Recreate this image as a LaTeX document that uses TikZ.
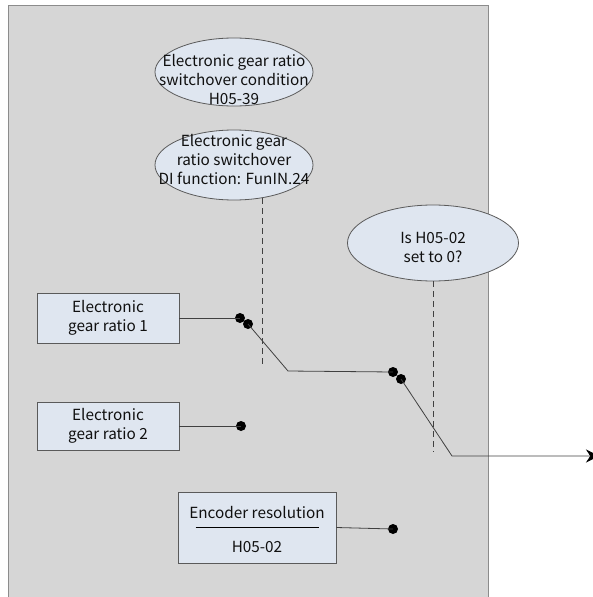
\documentclass[tikz,border=0pt]{standalone}
\usepackage{fontspec}
\setmainfont{Noto Sans CJK SC}
\usetikzlibrary{shapes.geometric,arrows.meta}
\definecolor{panel}{HTML}{D6D6D6}
\definecolor{panelborder}{HTML}{8C8C8C}
\definecolor{nodefill}{HTML}{DFE6F0}
\definecolor{nodeborder}{HTML}{5A5A5A}
\definecolor{txt}{HTML}{101010}
\definecolor{wire}{HTML}{404040}
\tikzset{
  every node/.style={font=\fontsize{15.3}{19}\selectfont, text=txt},
  oval/.style={ellipse, draw=nodeborder, fill=nodefill, line width=0.8pt, inner sep=0pt},
  ovaltext/.style={inner sep=0pt, align=center},
  gearbox/.style={rectangle, draw=nodeborder, fill=nodefill, line width=0.8pt, inner sep=0pt, align=center, minimum width=142pt},
  wireline/.style={draw=wire, line width=0.8pt},
  dashline/.style={draw=wire, line width=0.8pt, dash pattern=on 6pt off 4pt},
  contact/.style={circle, fill=black, inner sep=0pt, minimum size=10pt},
}
\begin{document}
\begin{tikzpicture}[x=1pt,y=-1pt]
\useasboundingbox (0,0) rectangle (592,597);
\fill[panel] (8,5) rectangle (488,600);
\draw[panelborder, line width=1pt] (8,600) -- (8,5) -- (488,5) -- (488,600);

% ellipses
\node[oval, minimum width=158pt, minimum height=68pt] (e1) at (234,72) {};
\node[ovaltext] (e1t) at (234,80) {Electronic gear ratio\\switchover condition\\H05-39};
\node[oval, minimum width=158pt, minimum height=70pt] (e2) at (234,165) {};
\node[ovaltext] (e2t) at (234,160) {Electronic gear\\ratio switchover\\DI function: FunIN.24};
\node[oval, minimum width=171pt, minimum height=76pt] (e3) at (433,243) {};
\node[ovaltext] (e3t) at (433,247) {Is H05-02\\set to 0?};

% boxes
\node[gearbox, minimum height=50pt] (g1) at (108,318) {Electronic\\gear ratio 1};
\node[gearbox, minimum height=48pt] (g2) at (108,426) {Electronic\\gear ratio 2};
\node[rectangle, draw=nodeborder, fill=nodefill, line width=0.8pt, minimum width=158pt, minimum height=71pt, inner sep=0pt] (enc) at (257,527.5) {};
\node[inner sep=0pt] (enct) at (257,513) {Encoder resolution};
\node[inner sep=0pt] (encb) at (257,547) {H05-02};
\draw[draw=black, line width=0.8pt] ([xshift=18pt]enc.west) -- ([xshift=-17pt]enc.east);

% contacts
\node[contact] (a1) at (240,318) {};
\node[contact] (p1) at (248,324) {};
\node[contact] (a2) at (241,426) {};
\node[contact] (a3) at (393,529) {};
\node[contact] (b1) at (393,372) {};
\node[contact] (p2) at (401,379) {};
\coordinate (k1) at (288,371);
\coordinate (k2) at (452,456);
\coordinate (out) at (599,456);
\coordinate (d1top) at (262,198);
\coordinate (d1bot) at (262,365);
\coordinate (d2bot) at (433,452);

% dashed control lines
\draw[dashline] (d1top) -- (d1bot);
\draw[dashline] (e3.south) -- (d2bot);

% wiring
\draw[wireline] (g1.east) -- (a1.center);
\draw[wireline] (g2.east) -- (a2.center);
\draw[wireline] (enc.east) -- (a3.center);
\draw[wireline] (p1.center) -- (k1) -- (b1.center);
\draw[wireline, -{Stealth[length=13pt,width=13pt,fill=black,color=black]}] (p2.center) -- (k2) -- (out);
\end{tikzpicture}
\end{document}
